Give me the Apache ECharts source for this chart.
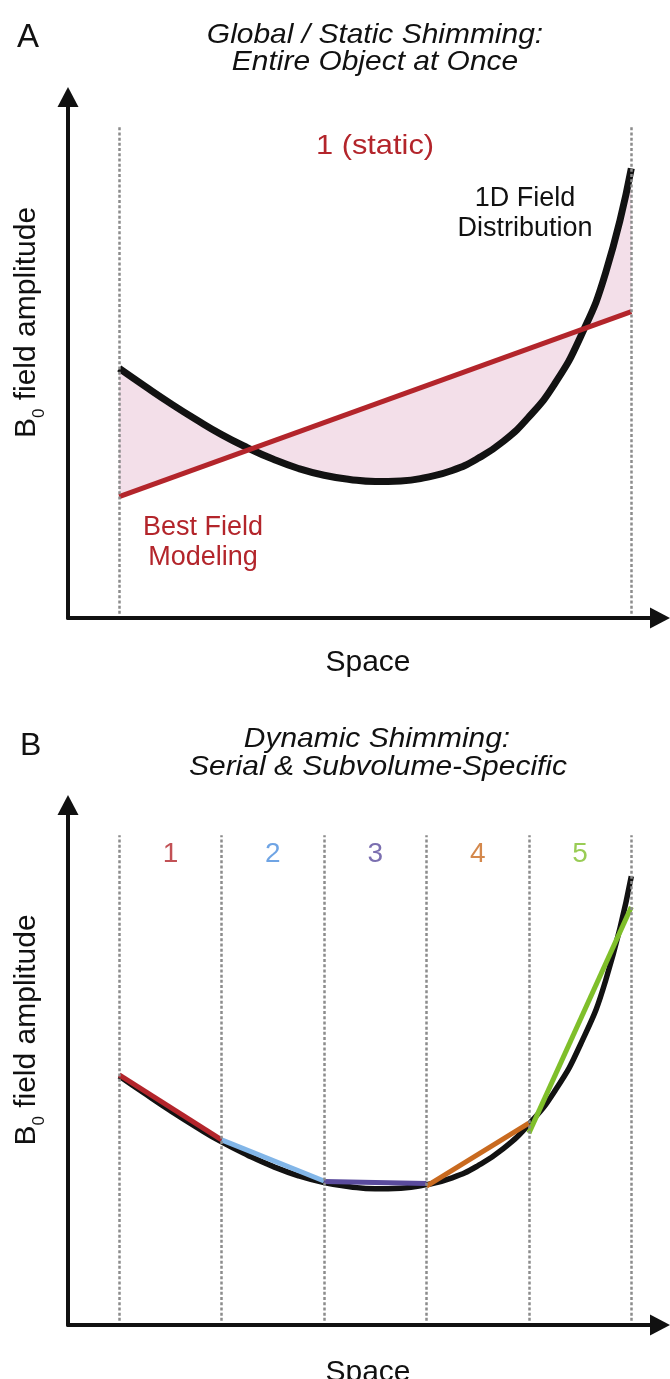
<!DOCTYPE html>
<html>
<head>
<meta charset="utf-8">
<script src="https://cdn.jsdelivr.net/npm/echarts@6/dist/echarts.min.js"></script>
<style>
  html, body { margin: 0; padding: 0; background: #ffffff; }
  #chart { width: 670px; height: 1379px; }
</style>
</head>
<body>
<div id="chart"></div>
<script>
// Position across the object (one subvolume = 1 unit)
const space = [0.5, 0.75, 1.0, 1.25, 1.5, 1.75, 2.0, 2.25, 2.5, 2.75, 3.0,
               3.25, 3.5, 3.75, 4.0, 4.25, 4.5, 4.75, 5.0, 5.25, 5.5];
// 1D B0 field distribution along the object (arbitrary units)
const fieldB0 = [4.79, 4.45, 4.12, 3.81, 3.52, 3.27, 3.05, 2.87, 2.74, 2.66, 2.62,
                 2.63, 2.70, 2.83, 3.06, 3.39, 3.86, 4.49, 5.38, 6.63, 8.63];
// Global / static shim: single best linear field model over the whole object
const staticFit = [[0.5, 2.33], [5.5, 5.88]];
// Subvolume boundaries for dynamic shimming
const boundaries = [0.5, 1.5, 2.5, 3.5, 4.5, 5.5];
const subvolumes = ['1', '2', '3', '4', '5'];
// Per-subvolume linear field models [start, end]
const subvolumeFits = [
  [[0.5, 4.81], [1.5, 3.56]],
  [[1.5, 3.56], [2.5, 2.77]],
  [[2.5, 2.76], [3.5, 2.72]],
  [[3.5, 2.67], [4.5, 3.88]],
  [[4.5, 3.69], [5.5, 8.04]]
];

const FONT = "'Liberation Sans', Arial, Helvetica, sans-serif";
const RED = '#b3252b';
const subvolumeLineColors = ['#b3252b', '#82b6e8', '#5a4b9c', '#c96a1f', '#7fbf2a'];
const subvolumeTextColors = ['#b3252b', '#4b8ddd', '#5a4b9c', '#c96a1f', '#7fbf2a'];
const guideTop = 9.42;
const labelLevel = 9.05;

const curveData = space.map((x, i) => [x, fieldB0[i]]);

function axisPair(gridIndex, spaceGap) {
  const axisLine = {
    show: true,
    symbol: ['none', 'triangle'],
    symbolSize: [21, 20],
    lineStyle: { color: '#111', width: 4 }
  };
  return {
    x: {
      type: 'value', gridIndex, min: 0, max: 5.78,
      axisLine, axisTick: { show: false }, axisLabel: { show: false }, splitLine: { show: false },
      name: 'Space', nameLocation: 'middle', nameGap: spaceGap,
      nameTextStyle: { fontFamily: FONT, fontSize: 30, color: '#111', padding: [0, 0, 0, 8] }
    },
    y: {
      type: 'value', gridIndex, min: 0, max: 10,
      axisLine, axisTick: { show: false }, axisLabel: { show: false }, splitLine: { show: false },
      name: '{b|B}{s|0}{b| field amplitude}', nameLocation: 'middle', nameRotate: 90, nameGap: 20,
      nameTextStyle: {
        fontFamily: FONT, color: '#111', padding: [0, 0, 0, 70],
        rich: {
          b: { fontFamily: FONT, fontSize: 30, color: '#111', lineHeight: 36, verticalAlign: 'top' },
          s: { fontFamily: FONT, fontSize: 17, color: '#111', lineHeight: 36, verticalAlign: 'bottom' }
        }
      }
    }
  };
}

function guides(gridIndex, xs) {
  return {
    type: 'line', xAxisIndex: gridIndex, yAxisIndex: gridIndex, data: [], silent: true,
    markLine: {
      silent: true, symbol: ['none', 'none'], label: { show: false },
      lineStyle: { color: '#8c8c8c', width: 2.5, type: [3, 2.2] },
      emphasis: { disabled: true },
      data: xs.map(x => [{ coord: [x, 0.08] }, { coord: [x, guideTop] }])
    },
    z: 1
  };
}

const axA = axisPair(0, 30);
const axB = axisPair(1, 33);

function caption(text, x, y, size, fill, extra) {
  return Object.assign({
    type: 'text', x, y,
    style: { text, fontFamily: FONT, fontSize: size, fill, align: 'center', verticalAlign: 'middle' }
  }, extra || {});
}
function heading(text, x, y) {
  const el = caption(text, x, y, 28, '#111', { scaleX: 1.07 });
  el.style.fontStyle = 'italic';
  return el;
}

const option = {
  animation: false,
  backgroundColor: '#ffffff',
  grid: [
    { left: 68, top: 97, width: 592, height: 521, containLabel: false, outerBoundsMode: 'none' },
    { left: 68, top: 805, width: 592, height: 520, containLabel: false, outerBoundsMode: 'none' }
  ],
  xAxis: [axA.x, axB.x],
  yAxis: [axA.y, axB.y],
  series: [
    // Panel A: residual between field and static model
    {
      type: 'custom', xAxisIndex: 0, yAxisIndex: 0, data: [0], silent: true, z: 0,
      renderItem: function (params, api) {
        const pts = curveData.map(p => api.coord(p));
        for (let i = staticFit.length - 1; i >= 0; i--) pts.push(api.coord(staticFit[i]));
        return { type: 'polygon', shape: { points: pts }, style: { fill: '#f3dfe9' } };
      }
    },
    guides(0, [boundaries[0], boundaries[boundaries.length - 1]]),
    {
      type: 'line', xAxisIndex: 0, yAxisIndex: 0, data: curveData, smooth: 0.5,
      showSymbol: false, silent: true, z: 3,
      lineStyle: { color: '#121212', width: 7, cap: 'butt' }
    },
    {
      type: 'line', xAxisIndex: 0, yAxisIndex: 0, data: staticFit,
      showSymbol: false, silent: true, z: 4,
      lineStyle: { color: RED, width: 5 }
    },
    // Panel B: subvolume-specific fits
    guides(1, boundaries),
    {
      type: 'line', xAxisIndex: 1, yAxisIndex: 1, data: curveData, smooth: 0.5,
      showSymbol: false, silent: true, z: 3,
      lineStyle: { color: '#121212', width: 5.5, cap: 'butt' }
    },
    ...subvolumeFits.map((seg, i) => ({
      type: 'line', xAxisIndex: 1, yAxisIndex: 1, data: seg,
      showSymbol: false, silent: true, z: 4,
      lineStyle: { color: subvolumeLineColors[i], width: 5 }
    })),
    {
      type: 'scatter', xAxisIndex: 1, yAxisIndex: 1, symbolSize: 0, silent: true, z: 5,
      data: subvolumes.map((name, i) => ({
        value: [(boundaries[i] + boundaries[i + 1]) / 2, labelLevel],
        label: { color: subvolumeTextColors[i] }
      })),
      label: {
        show: true, position: 'inside', fontFamily: FONT, fontSize: 28,
        formatter: p => subvolumes[p.dataIndex]
      }
    }
  ],
  graphic: [
    { type: 'text', left: 17, top: 21, style: { text: 'A', fontFamily: FONT, fontSize: 33, fill: '#111' } },
    heading('Global / Static Shimming:', 375, 35),
    heading('Entire Object at Once', 375, 62),
    caption('1 (static)', 375, 146, 28, RED, { scaleX: 1.1 }),
    caption('1D Field', 525, 199, 27, '#111'),
    caption('Distribution', 525, 229, 27, '#111'),
    caption('Best Field', 203, 528, 27, RED),
    caption('Modeling', 203, 558, 27, RED),
    caption('Residual', 424, 423, 26, '#9b9b9b', { rotation: 0.36 }),
    { type: 'text', left: 20, top: 730, style: { text: 'B', fontFamily: FONT, fontSize: 32, fill: '#111' } },
    heading('Dynamic Shimming:', 377, 739),
    heading('Serial & Subvolume-Specific', 378, 767)
  ]
};

const chart = echarts.init(document.getElementById('chart'), null, { renderer: 'canvas' });
chart.setOption(option);
</script>
</body>
</html>
